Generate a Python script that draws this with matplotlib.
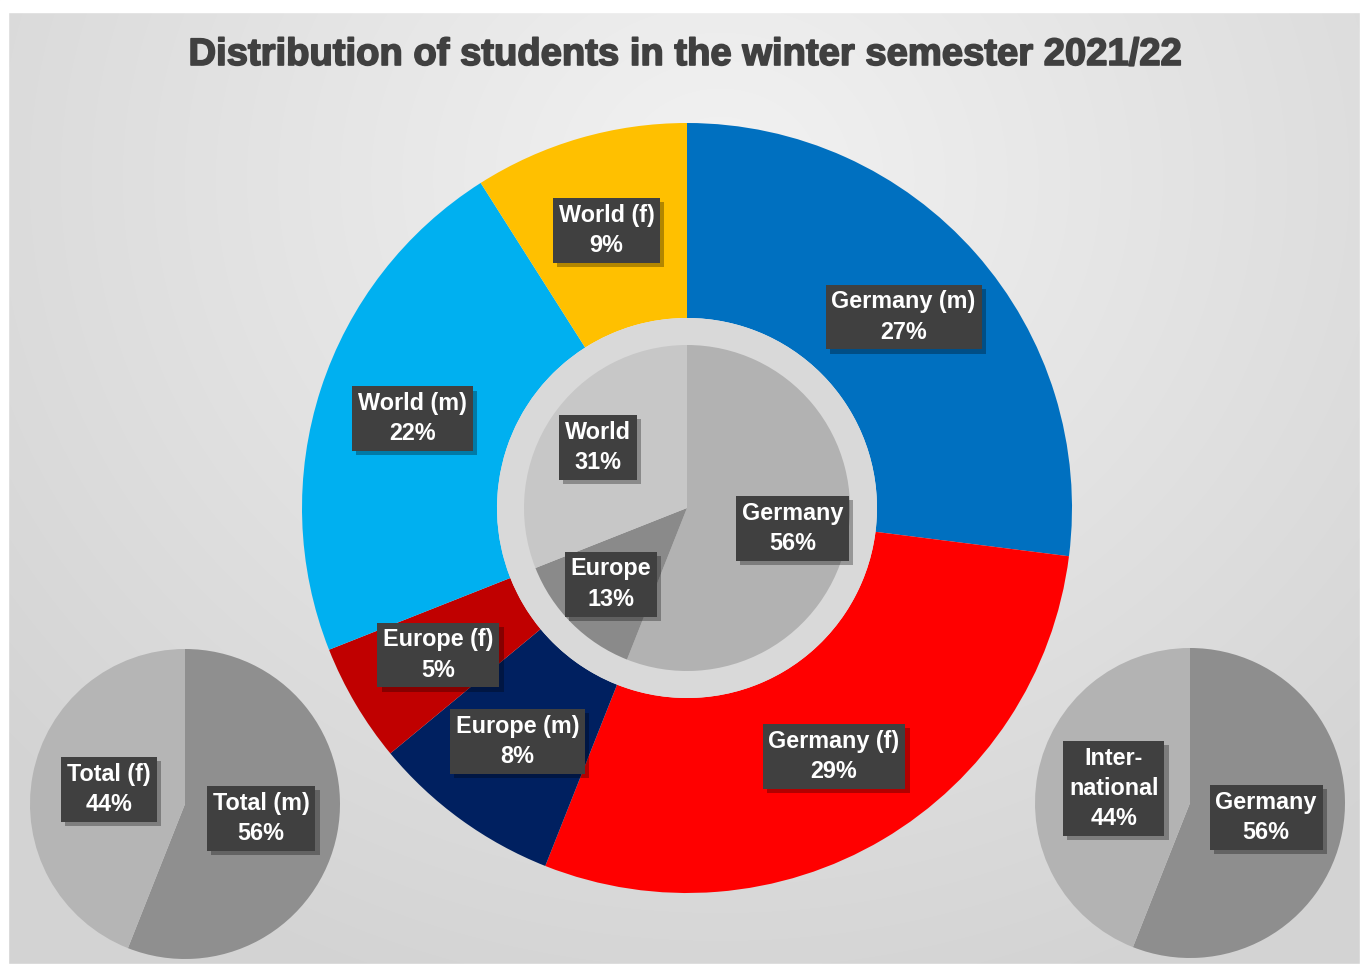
import numpy as np
import matplotlib
matplotlib.use('Agg')
import matplotlib.pyplot as plt
import matplotlib.patheffects as pe
from matplotlib.patches import Circle, Rectangle

plt.rcParams['font.family'] = ['Liberation Sans', 'DejaVu Sans']

# ---------- data ----------
outer_labels = ['Germany (m)', 'Germany (f)', 'Europe (m)', 'Europe (f)', 'World (m)', 'World (f)']
outer_values = [27, 29, 8, 5, 22, 9]
outer_colors = ['#0070c0', '#ff0000', '#002060', '#c00000', '#00b0f0', '#ffc000']

inner_labels = ['Germany', 'Europe', 'World']
inner_values = [56, 13, 31]
inner_colors = ['#b2b2b2', '#8a8a8a', '#c7c7c7']

gender_labels = ['Total (m)', 'Total (f)']
gender_values = [56, 44]
gender_colors = ['#8f8f8f', '#b5b5b5']

origin_labels = ['Germany', 'Inter-\nnational']
origin_values = [56, 44]
origin_colors = ['#8e8e8e', '#b3b3b3']

title = 'Distribution of students in the winter semester 2021/22'

# ---------- layout (pixel coordinates, y up) ----------
W, H = 1367, 967
fig = plt.figure(figsize=(W / 100, H / 100), dpi=100)
ax = fig.add_axes([0, 0, 1, 1])

# background: white margin and soft radial gray gradient
yy, xx = np.mgrid[0:H, 0:W]
d = np.hypot((xx - 720) / 1.0, (yy - (H - 180)) / 0.9)
g = 0.95 - 0.12 * np.clip(d / 950, 0, 1)
bg = np.dstack([g, g, g])
ax.imshow(bg, extent=[0, W, 0, H], origin='lower', zorder=0, aspect='auto')
ax.add_patch(Rectangle((0, 0), 8, H, color='white', zorder=0.5))
ax.add_patch(Rectangle((0, H - 12), W, 12, color='white', zorder=0.5))
ax.add_patch(Rectangle((W - 7, 0), 7, H, color='white', zorder=0.5))
ax.add_patch(Rectangle((0, 0), W, 3, color='white', zorder=0.5))

shadow = [pe.SimplePatchShadow(offset=(3, -3), shadow_rgbFace='black', alpha=0.3), pe.Normal()]


def label_box(x, y, s):
    t = ax.text(x, y, s, ha='center', va='center', fontsize=16.8, fontweight='bold',
                color='white', linespacing=1.4, zorder=5,
                bbox=dict(boxstyle='square,pad=0.25', fc='#404040', ec='none'))
    t.get_bbox_patch().set_path_effects(shadow)


def draw_pie(values, colors, labels, center, radius, width=None, dist=0.5):
    wp = dict(linewidth=0)
    if width is not None:
        wp['width'] = width
    wedges, _ = ax.pie(values, colors=colors, startangle=90, counterclock=False,
                       center=center, radius=radius, wedgeprops=wp, frame=True)
    total = sum(values)
    for w, lab, v in zip(wedges, labels, values):
        ang = np.deg2rad((w.theta1 + w.theta2) / 2)
        x = center[0] + dist * radius * np.cos(ang)
        y = center[1] + dist * radius * np.sin(ang)
        label_box(x, y, f'{lab}\n{round(100 * v / total)}%')
    return wedges


# main donut with gray ring and inner pie
c_main = (687, H - 508)
draw_pie(outer_values, outer_colors, outer_labels, c_main, 385, width=195, dist=0.75)
ax.add_patch(Circle(c_main, 190, color='#d9d9d9', zorder=1, lw=0))
draw_pie(inner_values, inner_colors, inner_labels, c_main, 163, dist=0.66)

# small pies
draw_pie(gender_values, gender_colors, gender_labels, (185, H - 804), 155, dist=0.5)
draw_pie(origin_values, origin_colors, origin_labels, (1190, H - 803), 155, dist=0.5)

ax.text(686, H - 55, title, ha='center', va='center', fontsize=27.5, fontweight='bold',
        color='#404040', zorder=6,
        path_effects=[pe.withStroke(linewidth=1.2, foreground='#404040')])

ax.set_xlim(0, W)
ax.set_ylim(0, H)
ax.set_aspect('equal')
ax.axis('off')

fig.savefig('out.png', dpi=100)
